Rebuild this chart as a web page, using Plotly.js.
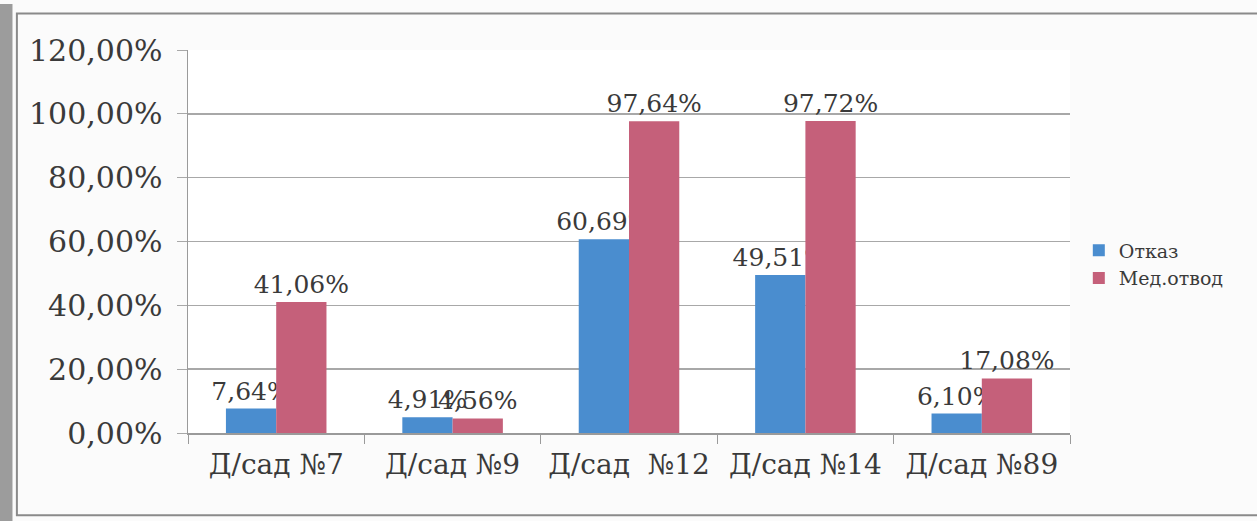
<!DOCTYPE html>
<html>
<head>
<meta charset="utf-8">
<script src="https://cdn.plot.ly/plotly-3.0.1.min.js"></script>
<style>
html,body{margin:0;padding:0;background:#ffffff;}
#chart{width:1257px;height:521px;}
</style>
</head>
<body>
<div id="chart"></div>
<script>
const categories = ["Д/сад №7", "Д/сад №9", "Д/сад  №12", "Д/сад №14", "Д/сад №89"];
const otkaz = [7.64, 4.91, 60.69, 49.51, 6.10];
const medotvod = [41.06, 4.56, 97.64, 97.72, 17.08];
const seriesNames = ["Отказ", "Мед.отвод"];
const yTicks = [0, 20, 40, 60, 80, 100, 120];
const yTickText = yTicks.map(v => v.toFixed(2).replace(".", ",") + "%");

const serif = "DejaVu Serif";
const textColor = "#3a3a3a";

const common = {
  type: "bar",
  x: categories,
  textposition: "outside",
  texttemplate: "%{y:.2f}%",
  cliponaxis: false,
  constraintext: "none",
  textfont: {family: serif, size: 25, color: textColor},
  hoverinfo: "none"
};

const data = [
  Object.assign({}, common, {name: seriesNames[0], y: otkaz, marker: {color: "#4a8dcf"}}),
  Object.assign({}, common, {name: seriesNames[1], y: medotvod, marker: {color: "#c5607a"}})
];

const layout = {
  width: 1257, height: 521,
  margin: {l: 188, r: 187, t: 50, b: 88},
  paper_bgcolor: "#fbfbfb",
  plot_bgcolor: "#ffffff",
  separators: ", ",
  barmode: "group",
  bargap: 0.43,
  bargroupgap: 0,
  showlegend: true,
  legend: {
    x: 1.01, y: 0.44, xanchor: "left", yanchor: "middle",
    font: {family: serif, size: 19, color: textColor},
    bgcolor: "rgba(0,0,0,0)",
    itemwidth: 30,
    tracegroupgap: 6
  },
  xaxis: {
    type: "category",
    showline: true, linecolor: "#9a9a9a", linewidth: 1.5,
    ticks: "outside", tickson: "boundaries", ticklen: 9, tickcolor: "#9a9a9a",
    ticklabelstandoff: 6,
    tickfont: {family: serif, size: 28, color: textColor},
    showgrid: false
  },
  yaxis: {
    range: [0, 120],
    tickmode: "array",
    tickvals: yTicks,
    ticktext: yTickText,
    showline: true, linecolor: "#9a9a9a", linewidth: 1.5,
    showgrid: true, gridcolor: "#a8a8a8", gridwidth: 1.5,
    zeroline: false,
    ticks: "outside", ticklen: 10, tickcolor: "#a8a8a8",
    ticklabelstandoff: 8,
    tickfont: {family: serif, size: 30, color: textColor}
  },
  shapes: [
    {type: "rect", xref: "paper", yref: "paper", x0: -0.194, x1: 1.215, y0: -0.215, y1: 1.095,
     line: {color: "#8a8a8a", width: 2}, fillcolor: "rgba(0,0,0,0)", layer: "below"},
    {type: "rect", xref: "paper", yref: "paper", x0: -0.2132, x1: -0.199, y0: -0.24, y1: 1.12,
     line: {width: 0}, fillcolor: "#9c9c9c", layer: "below"}
  ]
};

Plotly.newPlot("chart", data, layout, {displayModeBar: false, staticPlot: true});
</script>
</body>
</html>
